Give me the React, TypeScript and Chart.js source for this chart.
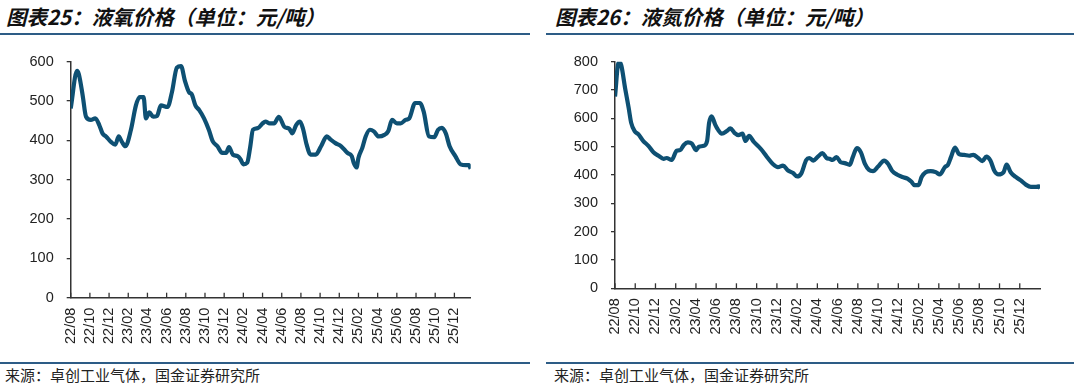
import React, { useEffect, useRef } from "react";
import { Chart, registerables } from "chart.js";
Chart.register(...registerables);

// x tick labels (every 2 months, starting 2022-08)
const tickLabels = ["22/08","22/10","22/12","23/02","23/04","23/06","23/08","23/10","23/12","24/02","24/04","24/06","24/08","24/10","24/12","25/02","25/04","25/06","25/08","25/10","25/12"];

// Liquid oxygen: months elapsed since start of 2022-08, price (元/吨)
const oxyMonths = [0,0.66,0.85,1.25,1.6,2.1,2.57,2.98,3.33,3.68,4.2,4.65,5.0,5.34,5.7,6.28,6.8,7.2,7.6,7.84,8.2,8.6,9.0,9.4,10.1,10.55,11.07,11.5,11.9,12.35,12.6,13.0,13.4,13.9,14.4,14.8,15.3,15.8,16.2,16.5,16.9,17.4,17.7,18.0,18.4,18.7,19.0,19.5,20.0,20.3,20.75,21.2,21.7,22.25,22.8,23.1,23.5,23.9,24.2,24.6,25.0,25.55,26.1,26.7,27.1,27.6,28.2,28.85,29.3,29.5,29.8,30.0,30.4,30.75,31.2,31.6,32.1,32.7,33.1,33.5,34.0,34.4,34.9,35.3,35.9,36.4,36.8,37.35,37.9,38.3,38.7,39.1,39.5,40.1,40.65,41.2,41.5,41.7];
const oxyPrices = [481,577,568,514,460,452,456,439,417,410,396,389,410,396,385,427,489,510,510,456,471,460,462,489,485,522,585,589,552,522,518,489,477,456,427,398,385,368,368,383,364,360,352,339,343,381,427,431,443,448,443,443,460,435,429,418,439,448,431,389,364,364,385,410,402,393,385,368,360,343,331,356,381,410,427,423,410,414,423,452,443,443,452,456,495,495,473,410,408,427,432,418,385,360,339,337,337,328];

// Liquid nitrogen: months elapsed since start of 2022-08, price (元/吨)
const nitroMonths = [0,0.36,0.62,1.0,1.35,1.6,1.94,2.3,2.8,3.3,3.8,4.3,4.8,5.1,5.6,6.1,6.45,6.8,7.2,7.6,8.0,8.3,8.77,9.1,9.3,9.55,9.9,10.16,10.55,11.05,11.4,11.8,12.2,12.6,12.9,13.25,13.7,14.2,14.6,15.1,15.6,16.1,16.6,17.1,17.6,18.0,18.4,18.9,19.2,19.6,20.0,20.5,20.9,21.2,21.5,21.9,22.3,22.7,23.2,23.5,23.9,24.3,24.7,25.1,25.5,26.0,26.6,27.0,27.4,27.9,28.4,28.9,29.3,29.6,30.0,30.3,30.7,31.2,31.7,32.1,32.6,32.9,33.2,33.6,34.0,34.5,35.0,35.4,35.9,36.3,36.7,37.1,37.5,37.9,38.4,38.7,39.1,39.6,40.1,40.6,41.1,41.6,41.9,42.0];
const nitroPrices = [677,799,787,706,637,584,555,544,520,503,480,468,457,460,453,486,488,506,515,511,488,500,503,520,584,607,578,561,546,555,565,549,541,546,520,538,518,500,484,460,439,428,433,416,407,395,405,453,460,451,463,477,460,457,453,463,445,442,436,463,495,480,439,418,414,430,451,439,414,401,393,387,376,364,364,393,410,414,410,402,428,436,463,497,474,471,468,471,460,449,465,451,414,402,410,437,410,393,381,366,358,358,360,352];

const LINE_COLOR = "#0E5073";
const AXIS_COLOR = "#333333";

const innerTicks = {
  id: "innerTicks",
  afterDraw(chart: any) {
    const x = chart.scales.x;
    const ctx = chart.ctx;
    const bottom = chart.chartArea.bottom;
    ctx.save();
    ctx.strokeStyle = AXIS_COLOR;
    ctx.lineWidth = 1.3;
    x.ticks.forEach((_t: any, i: number) => {
      const px = x.getPixelForTick(i);
      ctx.beginPath();
      ctx.moveTo(px, bottom);
      ctx.lineTo(px, bottom - 5);
      ctx.stroke();
    });
    ctx.restore();
  },
};

type PanelProps = {
  months: number[];
  prices: number[];
  yMax: number;
  xMax: number;
  yAxisWidth: number;
  xAxisHeight: number;
  padTop: number;
  padRight: number;
  left: number;
};

function Panel(p: PanelProps) {
  const ref = useRef<HTMLCanvasElement | null>(null);
  useEffect(() => {
    if (!ref.current) return;
    const data = p.months.map((m, i) => ({ x: m, y: p.prices[i] }));
    const chart = new Chart(ref.current, {
      type: "line",
      data: {
        datasets: [
          {
            data,
            borderColor: LINE_COLOR,
            borderWidth: 4.2,
            pointRadius: 0,
            cubicInterpolationMode: "monotone",
            fill: false,
          },
        ],
      },
      options: {
        animation: false,
        responsive: false,
        devicePixelRatio: 1,
        layout: { padding: { top: p.padTop, right: p.padRight, left: 0, bottom: 0 } },
        plugins: { legend: { display: false }, tooltip: { enabled: false } },
        scales: {
          x: {
            type: "linear",
            min: 0,
            max: p.xMax,
            afterBuildTicks: (axis: any) => {
              axis.ticks = tickLabels.map((_, i) => ({ value: i * 2 }));
            },
            afterFit: (axis: any) => {
              axis.height = p.xAxisHeight;
            },
            ticks: {
              autoSkip: false,
              minRotation: 90,
              maxRotation: 90,
              padding: 10,
              color: "#222",
              font: { size: 14.5, family: "'Liberation Sans', Arial, sans-serif" },
              callback: (v: any) => tickLabels[Math.round(Number(v) / 2)] ?? "",
            },
            grid: { display: false, drawTicks: false },
            border: { display: true, color: AXIS_COLOR, width: 1.5 },
          },
          y: {
            min: 0,
            max: p.yMax,
            afterFit: (axis: any) => {
              axis.width = p.yAxisWidth;
            },
            ticks: {
              stepSize: 100,
              padding: 13,
              color: "#222",
              font: { size: 14.5, family: "'Liberation Sans', Arial, sans-serif" },
            },
            grid: { display: true, drawOnChartArea: false, drawTicks: true, tickLength: 4, color: AXIS_COLOR, lineWidth: 1.3 },
            border: { display: true, color: AXIS_COLOR, width: 1.5 },
          },
        },
      },
      plugins: [innerTicks],
    } as any);
    return () => chart.destroy();
  }, []);
  return (
    <canvas
      ref={ref}
      width={540}
      height={320}
      style={{ position: "absolute", left: p.left, top: 40, width: 540, height: 320 }}
    />
  );
}

const titleStyle: React.CSSProperties = {
  position: "absolute",
  top: 3,
  fontFamily: "'Noto Sans CJK SC', sans-serif",
  fontWeight: 700,
  fontStyle: "italic",
  fontSize: 20.5,
  lineHeight: "27px",
  color: "#111",
  whiteSpace: "nowrap",
};

const sourceStyle: React.CSSProperties = {
  position: "absolute",
  top: 366,
  fontFamily: "'Noto Sans CJK SC', sans-serif",
  fontSize: 15,
  lineHeight: "18px",
  color: "#222",
  whiteSpace: "nowrap",
};

const ruleStyle = (left: number, top: number, width: number): React.CSSProperties => ({
  position: "absolute",
  left,
  top,
  width,
  height: 1.5,
  background: "#2D5C86",
});

export default function App() {
  return (
    <div style={{ position: "absolute", left: 0, top: 0, width: 1080, height: 384, background: "#fff", overflow: "hidden" }}>
      <div style={{ ...titleStyle, left: 6 }}>图表25：液氧价格（单位：元/吨）</div>
      <div style={{ ...titleStyle, left: 555 }}>图表26：液氮价格（单位：元/吨）</div>
      <div style={ruleStyle(0, 33, 530)} />
      <div style={ruleStyle(546, 33, 528)} />
      <Panel months={oxyMonths} prices={oxyPrices} yMax={600} xMax={41.7} yAxisWidth={70.7} xAxisHeight={62.3} padTop={17.3} padRight={69.3} left={0} />
      <Panel months={nitroMonths} prices={nitroPrices} yMax={800} xMax={42} yAxisWidth={75} xAxisHeight={71.7} padTop={18.3} padRight={40} left={540} />
      <div style={ruleStyle(0, 362, 530)} />
      <div style={ruleStyle(546, 362, 528)} />
      <div style={{ ...sourceStyle, left: 5 }}>来源：卓创工业气体，国金证券研究所</div>
      <div style={{ ...sourceStyle, left: 554 }}>来源：卓创工业气体，国金证券研究所</div>
    </div>
  );
}
